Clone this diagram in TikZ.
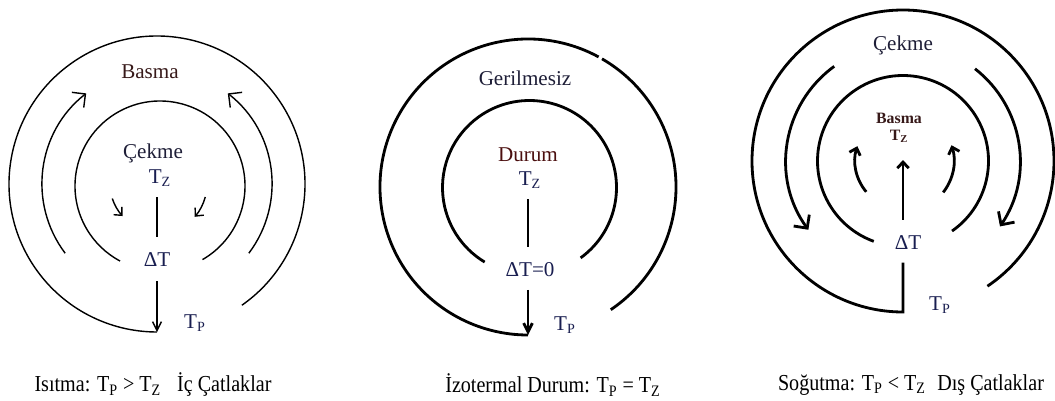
\documentclass[tikz,border=0pt]{standalone}
\usepackage{fontspec}
\setmainfont{Liberation Serif}
\newfontfamily\capfont[FakeStretch=0.88]{Liberation Serif}
\usetikzlibrary{arrows.meta}

\definecolor{txtnavy}{RGB}{25,30,80}
\definecolor{txtdark}{RGB}{30,30,55}
\definecolor{txtbrown}{RGB}{55,25,25}
\definecolor{txtred}{RGB}{75,15,15}

\begin{document}
\begin{tikzpicture}[x=0.02cm,y=0.02cm,
  thinring/.style={line width=0.8pt},
  boldring/.style={line width=1.6pt},
  bigtip/.style={-{Straight Barb[length=5.5pt,width=11pt]}},
  downtip/.style={-{Straight Barb[length=5pt,width=5pt]}},
  smalltip/.style={-{Straight Barb[length=3.5pt,width=6.5pt]}},
  lbl/.style={font=\fontsize{12}{14}\selectfont,inner sep=1pt},
  tinylbl/.style={font=\fontsize{9}{10}\selectfont\bfseries,inner sep=0pt},
  captext/.style={font=\capfont\fontsize{13}{15}\selectfont}]

\useasboundingbox (0,0) rectangle (1055,400);

% centres of the three sketches
\coordinate (cA) at (157,216);
\coordinate (cAi) at (160,214);
\coordinate (cB) at (528,213);
\coordinate (cBi) at (529.5,212.5);
\coordinate (cC) at (903,239);

% ---------------- heating ----------------
\draw[thinring] ([shift={(-55:148)}]cA) arc[start angle=-55,end angle=270,radius=148];
\draw[thinring] ([shift={(-60:85)}]cAi) arc[start angle=-60,end angle=242,radius=85];

% flow arrows
\draw[thinring,bigtip] ([shift={(217:115)}]cA) arc[start angle=217,end angle=128,radius=115];
\draw[thinring,bigtip] ([shift={(-37:115)}]cA) arc[start angle=-37,end angle=52,radius=115];
\draw[thinring,smalltip] ([shift={(198:47)}]cA) arc[start angle=198,end angle=223,radius=47];
\draw[thinring,smalltip] ([shift={(-15:50)}]cA) arc[start angle=-15,end angle=-41,radius=50];

\node[lbl,text=txtbrown] (basmaA) at (150,328) {Basma};
\node[lbl,text=txtdark] (cekmeA) at (153,247) {Çekme};
\node[lbl,text=txtnavy] (tzA) at (160,222) {T\textsubscript{Z}};
\node[lbl,text=txtnavy] (dtA) at (157,140) {ΔT};
\node[lbl,text=txtnavy] (tpA) at (195,77) {T\textsubscript{P}};
\coordinate (botA) at (157,68);

\draw[thinring,shorten <=5pt,shorten >=8pt] (tzA.south -| dtA) -- (dtA.north);
\draw[thinring,downtip,shorten <=7pt] (dtA.south) -- (botA);

% ---------------- isothermal ----------------
\draw[boldring] ([shift={(-56:148)}]cB) arc[start angle=-56,end angle=60,radius=148];
\draw[boldring] ([shift={(61.5:148)}]cB) arc[start angle=61.5,end angle=270,radius=148];
\draw[boldring] ([shift={(-54:87)}]cBi) arc[start angle=-54,end angle=239,radius=87];

\node[lbl,text=txtdark] (gerB) at (525,322) {Gerilmesiz};
\node[lbl,text=txtred] (durB) at (528,245) {Durum};
\node[lbl,text=txtnavy] (tzB) at (530,220) {T\textsubscript{Z}};
\node[lbl,text=txtnavy] (dtB) at (530,130) {ΔT=0};
\node[lbl,text=txtnavy] (tpB) at (565,75) {T\textsubscript{P}};
\coordinate (botB) at (528,65);

\draw[boldring,shorten <=5pt,shorten >=8pt] (tzB.south -| botB) -- (dtB.north -| botB);
\draw[boldring,downtip,shorten <=6pt] (dtB.south -| botB) -- (botB);

% ---------------- cooling ----------------
\coordinate (botC) at (903,88);
\coordinate (upC) at (903,240);

\node[lbl,text=txtdark] (cekmeC) at (903,355) {Çekme};
\node[tinylbl,text=txtbrown] (basmaC) at (899,282) {Basma};
\node[tinylbl,text=txtbrown] (tzC) at (899,264) {T\textsubscript{Z}};
\node[lbl,text=txtnavy] (dtC) at (908,157) {ΔT};
\node[lbl,text=txtnavy] (tpC) at (940,95) {T\textsubscript{P}};

\draw[boldring,shorten <=6pt] (dtC.south -| botC) -- (botC) arc[start angle=270,end angle=-56,radius=151];
\draw[boldring] ([shift={(-55:85.5)}]cC) arc[start angle=-55,end angle=250,radius=85.5];

% flow arrows
\draw[boldring,bigtip] ([shift={(126:117)}]cC) arc[start angle=126,end angle=216,radius=117];
\draw[boldring,bigtip] ([shift={(52:117)}]cC) arc[start angle=52,end angle=-34,radius=117];
\draw[boldring,smalltip] ([shift={(220:48)}]cC) arc[start angle=220,end angle=162,radius=48];
\draw[boldring,smalltip] ([shift={(-38:51)}]cC) arc[start angle=-38,end angle=18,radius=51];
\draw[boldring,smalltip,shorten <=8pt] (dtC.north -| upC) -- (upC);

% captions
\node[captext] (capA) at (153,15) {Isıtma: T\textsubscript{P} > T\textsubscript{Z}\hspace{0.7em}İç Çatlaklar};
\node[captext] (capB) at (553,15) {İzotermal Durum: T\textsubscript{P} = T\textsubscript{Z}};
\node[captext] (capC) at (911,15) {Soğutma: T\textsubscript{P} < T\textsubscript{Z}\enspace Dış Çatlaklar};

\end{tikzpicture}
\end{document}
